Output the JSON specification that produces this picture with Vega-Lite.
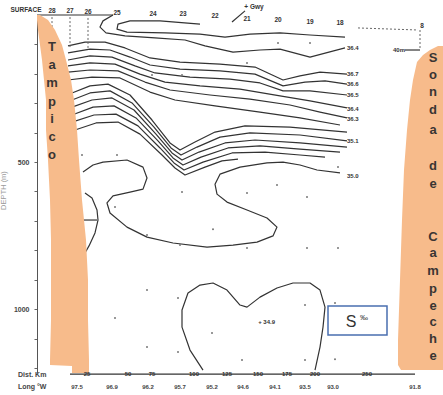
{
  "$schema": "https://vega.github.io/schema/vega-lite/v6.json",
  "width": 406,
  "height": 358,
  "padding": {"left": 37, "top": 15, "right": 0, "bottom": 22},
  "autosize": {"type": "none"},
  "background": "white",
  "config": {"view": {"stroke": null}, "font": "Liberation Sans"},
  "datasets": {
    "contours": [
      {"c":"c1","i":1,"d":76,"z":0},{"c":"c1","i":2,"d":66,"z":20},{"c":"c1","i":3,"d":63,"z":41},{"c":"c1","i":4,"d":69,"z":61},{"c":"c1","i":5,"d":88,"z":71},{"c":"c1","i":6,"d":118,"z":78},{"c":"c1","i":7,"d":148,"z":85},{"c":"c1","i":8,"d":168,"z":105},{"c":"c1","i":9,"d":196,"z":126},{"c":"c1","i":10,"d":223,"z":119},{"c":"c1","i":11,"d":243,"z":116},{"c":"c1","i":12,"d":273,"z":143},{"c":"c1","i":13,"d":308,"z":112},
      {"c":"c2","i":1,"d":163,"z":31},{"c":"c2","i":2,"d":123,"z":20},{"c":"c2","i":3,"d":93,"z":20},{"c":"c2","i":4,"d":81,"z":31},{"c":"c2","i":5,"d":80,"z":48},{"c":"c2","i":6,"d":90,"z":58},{"c":"c2","i":7,"d":128,"z":61},{"c":"c2","i":8,"d":163,"z":65},{"c":"c2","i":9,"d":188,"z":75},{"c":"c2","i":10,"d":213,"z":65},{"c":"c2","i":11,"d":243,"z":61},{"c":"c2","i":12,"d":273,"z":68},{"c":"c2","i":13,"d":308,"z":75},
      {"c":"u1","i":1,"d":31,"z":105},{"c":"u1","i":2,"d":48,"z":92},{"c":"u1","i":3,"d":68,"z":92},{"c":"u1","i":4,"d":88,"z":112},{"c":"u1","i":5,"d":113,"z":146},{"c":"u1","i":6,"d":143,"z":160},{"c":"u1","i":7,"d":183,"z":167},{"c":"u1","i":8,"d":218,"z":177},{"c":"u1","i":9,"d":246,"z":221},{"c":"u1","i":10,"d":263,"z":207},{"c":"u1","i":11,"d":283,"z":194},{"c":"u1","i":12,"d":310,"z":201},
      {"c":"u2","i":1,"d":31,"z":129},{"c":"u2","i":2,"d":53,"z":116},{"c":"u2","i":3,"d":73,"z":119},{"c":"u2","i":4,"d":93,"z":143},{"c":"u2","i":5,"d":113,"z":170},{"c":"u2","i":6,"d":143,"z":184},{"c":"u2","i":7,"d":183,"z":190},{"c":"u2","i":8,"d":218,"z":201},{"c":"u2","i":9,"d":246,"z":241},{"c":"u2","i":10,"d":268,"z":228},{"c":"u2","i":11,"d":288,"z":224},{"c":"u2","i":12,"d":310,"z":235},
      {"c":"u3","i":1,"d":31,"z":153},{"c":"u3","i":2,"d":53,"z":139},{"c":"u3","i":3,"d":75,"z":143},{"c":"u3","i":4,"d":98,"z":173},{"c":"u3","i":5,"d":118,"z":197},{"c":"u3","i":6,"d":153,"z":211},{"c":"u3","i":7,"d":193,"z":218},{"c":"u3","i":8,"d":223,"z":231},{"c":"u3","i":9,"d":246,"z":258},{"c":"u3","i":10,"d":273,"z":258},{"c":"u3","i":11,"d":310,"z":272},
      {"c":"u4","i":1,"d":31,"z":173},{"c":"u4","i":2,"d":53,"z":163},{"c":"u4","i":3,"d":78,"z":167},{"c":"u4","i":4,"d":103,"z":201},{"c":"u4","i":5,"d":128,"z":228},{"c":"u4","i":6,"d":163,"z":241},{"c":"u4","i":7,"d":203,"z":252},{"c":"u4","i":8,"d":243,"z":275},{"c":"u4","i":9,"d":273,"z":292},{"c":"u4","i":10,"d":310,"z":316},
      {"c":"u5","i":1,"d":31,"z":194},{"c":"u5","i":2,"d":53,"z":187},{"c":"u5","i":3,"d":81,"z":190},{"c":"u5","i":4,"d":108,"z":228},{"c":"u5","i":5,"d":133,"z":255},{"c":"u5","i":6,"d":173,"z":272},{"c":"u5","i":7,"d":213,"z":286},{"c":"u5","i":8,"d":253,"z":306},{"c":"u5","i":9,"d":283,"z":330},{"c":"u5","i":10,"d":310,"z":350},
      {"c":"u6","i":1,"d":31,"z":221},{"c":"u6","i":2,"d":55,"z":211},{"c":"u6","i":3,"d":83,"z":214},{"c":"u6","i":4,"d":113,"z":262},{"c":"u6","i":5,"d":138,"z":289},{"c":"u6","i":6,"d":178,"z":309},{"c":"u6","i":7,"d":223,"z":330},{"c":"u6","i":8,"d":263,"z":350},{"c":"u6","i":9,"d":303,"z":374},
      {"c":"l1","i":1,"d":35,"z":265},{"c":"l1","i":2,"d":53,"z":241},{"c":"l1","i":3,"d":71,"z":235},{"c":"l1","i":4,"d":93,"z":272},{"c":"l1","i":5,"d":115,"z":357},{"c":"l1","i":6,"d":133,"z":435},{"c":"l1","i":7,"d":143,"z":459},{"c":"l1","i":8,"d":158,"z":432},{"c":"l1","i":9,"d":178,"z":398},{"c":"l1","i":10,"d":208,"z":377},{"c":"l1","i":11,"d":253,"z":381},{"c":"l1","i":12,"d":310,"z":398},
      {"c":"l2","i":1,"d":35,"z":289},{"c":"l2","i":2,"d":53,"z":265},{"c":"l2","i":3,"d":73,"z":258},{"c":"l2","i":4,"d":95,"z":299},{"c":"l2","i":5,"d":117,"z":381},{"c":"l2","i":6,"d":134,"z":452},{"c":"l2","i":7,"d":144,"z":476},{"c":"l2","i":8,"d":160,"z":449},{"c":"l2","i":9,"d":183,"z":415},{"c":"l2","i":10,"d":213,"z":401},{"c":"l2","i":11,"d":263,"z":408},{"c":"l2","i":12,"d":310,"z":428},
      {"c":"l3","i":1,"d":35,"z":313},{"c":"l3","i":2,"d":55,"z":289},{"c":"l3","i":3,"d":75,"z":282},{"c":"l3","i":4,"d":97,"z":323},{"c":"l3","i":5,"d":119,"z":405},{"c":"l3","i":6,"d":135,"z":469},{"c":"l3","i":7,"d":145,"z":493},{"c":"l3","i":8,"d":162,"z":466},{"c":"l3","i":9,"d":188,"z":435},{"c":"l3","i":10,"d":218,"z":425},{"c":"l3","i":11,"d":263,"z":435},{"c":"l3","i":12,"d":310,"z":449},
      {"c":"l4","i":1,"d":35,"z":340},{"c":"l4","i":2,"d":56,"z":313},{"c":"l4","i":3,"d":77,"z":309},{"c":"l4","i":4,"d":99,"z":350},{"c":"l4","i":5,"d":121,"z":428},{"c":"l4","i":6,"d":136,"z":486},{"c":"l4","i":7,"d":146,"z":510},{"c":"l4","i":8,"d":164,"z":483},{"c":"l4","i":9,"d":191,"z":452},{"c":"l4","i":10,"d":223,"z":445},{"c":"l4","i":11,"d":263,"z":456},{"c":"l4","i":12,"d":303,"z":466},
      {"c":"l5","i":1,"d":35,"z":364},{"c":"l5","i":2,"d":57,"z":340},{"c":"l5","i":3,"d":79,"z":337},{"c":"l5","i":4,"d":101,"z":377},{"c":"l5","i":5,"d":123,"z":452},{"c":"l5","i":6,"d":137,"z":503},{"c":"l5","i":7,"d":147,"z":527},{"c":"l5","i":8,"d":166,"z":500},{"c":"l5","i":9,"d":195,"z":469},{"c":"l5","i":10,"d":228,"z":466},{"c":"l5","i":11,"d":263,"z":476},{"c":"l5","i":12,"d":288,"z":483},
      {"c":"l6","i":1,"d":38,"z":391},{"c":"l6","i":2,"d":59,"z":367},{"c":"l6","i":3,"d":81,"z":364},{"c":"l6","i":4,"d":103,"z":405},{"c":"l6","i":5,"d":125,"z":476},{"c":"l6","i":6,"d":138,"z":520},{"c":"l6","i":7,"d":148,"z":544},{"c":"l6","i":8,"d":168,"z":517},{"c":"l6","i":9,"d":185,"z":496},{"c":"l6","i":10,"d":201,"z":490},
      {"c":"s1","i":1,"d":46,"z":534},{"c":"s1","i":2,"d":56,"z":510},{"c":"s1","i":3,"d":66,"z":500},{"c":"s1","i":4,"d":90,"z":493},{"c":"s1","i":5,"d":106,"z":517},{"c":"s1","i":6,"d":110,"z":554},{"c":"s1","i":7,"d":106,"z":592},{"c":"s1","i":8,"d":93,"z":602},{"c":"s1","i":9,"d":76,"z":615},{"c":"s1","i":10,"d":70,"z":639},{"c":"s1","i":11,"d":73,"z":673},{"c":"s1","i":12,"d":90,"z":721},{"c":"s1","i":13,"d":110,"z":755},{"c":"s1","i":14,"d":136,"z":775},{"c":"s1","i":15,"d":170,"z":789},{"c":"s1","i":16,"d":196,"z":782},{"c":"s1","i":17,"d":220,"z":772},{"c":"s1","i":18,"d":236,"z":751},{"c":"s1","i":19,"d":240,"z":721},{"c":"s1","i":20,"d":230,"z":690},{"c":"s1","i":21,"d":210,"z":663},{"c":"s1","i":22,"d":190,"z":636},{"c":"s1","i":23,"d":180,"z":609},{"c":"s1","i":24,"d":178,"z":575},{"c":"s1","i":25,"d":183,"z":541},{"c":"s1","i":26,"d":203,"z":517},{"c":"s1","i":27,"d":230,"z":503},{"c":"s1","i":28,"d":246,"z":500},{"c":"s1","i":29,"d":263,"z":510},{"c":"s1","i":30,"d":280,"z":527},{"c":"s1","i":31,"d":303,"z":537},
      {"c":"semi","i":1,"d":48,"z":605},{"c":"semi","i":2,"d":55,"z":622},{"c":"semi","i":3,"d":60,"z":663},{"c":"semi","i":4,"d":61,"z":697},{"c":"semi","i":5,"d":58,"z":741},{"c":"semi","i":6,"d":52,"z":785},{"c":"semi","i":7,"d":48,"z":809},
      {"c":"bar","i":1,"d":46,"z":697},{"c":"bar","i":2,"d":60,"z":697},
      {"c":"heart","i":1,"d":166,"z":1207},{"c":"heart","i":2,"d":153,"z":1139},{"c":"heart","i":3,"d":145,"z":1061},{"c":"heart","i":4,"d":145,"z":1003},{"c":"heart","i":5,"d":151,"z":945},{"c":"heart","i":6,"d":163,"z":918},{"c":"heart","i":7,"d":176,"z":911},{"c":"heart","i":8,"d":190,"z":935},{"c":"heart","i":9,"d":203,"z":986},{"c":"heart","i":10,"d":210,"z":993},{"c":"heart","i":11,"d":223,"z":959},{"c":"heart","i":12,"d":240,"z":928},{"c":"heart","i":13,"d":256,"z":911},{"c":"heart","i":14,"d":273,"z":911},{"c":"heart","i":15,"d":283,"z":935},{"c":"heart","i":16,"d":288,"z":993},{"c":"heart","i":17,"d":286,"z":1061},{"c":"heart","i":18,"d":283,"z":1129},{"c":"heart","i":19,"d":278,"z":1207},
      {"c":"surf","i":1,"d":0,"z":0},{"c":"surf","i":2,"d":76,"z":0},
      {"c":"arrow","i":1,"d":195,"z":24},{"c":"arrow","i":2,"d":208,"z":-14},
      {"c":"seg","i":1,"d":368,"z":119},{"c":"seg","i":2,"d":383,"z":119},
      {"c":"base","i":1,"d":33,"z":1221},{"c":"base","i":2,"d":378,"z":1221}
    ],
    "dashed": [
      {"c":"r1","i":1,"d":321,"z":44},{"c":"r1","i":2,"d":381,"z":51},
      {"c":"v1","i":1,"d":15,"z":7},{"c":"v1","i":2,"d":15,"z":112},
      {"c":"v2","i":1,"d":33,"z":7},{"c":"v2","i":2,"d":33,"z":112},
      {"c":"v3","i":1,"d":51,"z":10},{"c":"v3","i":2,"d":51,"z":112},
      {"c":"v4","i":1,"d":383,"z":51},{"c":"v4","i":2,"d":383,"z":119}
    ],
    "dots": [
      {"d":45,"z":476},{"d":80,"z":476},{"d":145,"z":602},{"d":210,"z":605},{"d":240,"z":578},{"d":270,"z":619},{"d":110,"z":748},{"d":143,"z":782},{"d":176,"z":728},{"d":210,"z":792},{"d":270,"z":792},{"d":301,"z":792},{"d":78,"z":653},{"d":301,"z":517},{"d":110,"z":935},{"d":78,"z":1030},{"d":110,"z":1129},{"d":141,"z":962},{"d":141,"z":1146},{"d":175,"z":1081},{"d":205,"z":1173},{"d":268,"z":986},{"d":268,"z":1173},{"d":298,"z":979},{"d":298,"z":1170},{"d":115,"z":204},{"d":145,"z":204},{"d":210,"z":163},{"d":241,"z":95},{"d":273,"z":95}
    ],
    "coast": [
      {"band":"L","z":0,"xa":0,"xb":3},{"band":"L","z":17,"xa":0,"xb":11},{"band":"L","z":51,"xa":1,"xb":18},{"band":"L","z":102,"xa":3,"xb":25},{"band":"L","z":153,"xa":5,"xb":29},{"band":"L","z":221,"xa":7,"xb":34},{"band":"L","z":289,"xa":9,"xb":37},{"band":"L","z":391,"xa":9,"xb":40},{"band":"L","z":493,"xa":11,"xb":42},{"band":"L","z":629,"xa":13,"xb":45},{"band":"L","z":765,"xa":14,"xb":49},{"band":"L","z":901,"xa":14,"xb":51},{"band":"L","z":1037,"xa":14,"xb":51},{"band":"L","z":1173,"xa":13,"xb":52},{"band":"L","z":1190,"xa":13,"xb":52},{"band":"L","z":1193,"xa":35,"xb":52},{"band":"L","z":1217,"xa":35,"xb":52},
      {"band":"R","z":105,"xa":401,"xb":406},{"band":"R","z":119,"xa":393,"xb":406},{"band":"R","z":136,"xa":386,"xb":406},{"band":"R","z":160,"xa":380,"xb":406},{"band":"R","z":221,"xa":376,"xb":406},{"band":"R","z":289,"xa":373,"xb":406},{"band":"R","z":391,"xa":370,"xb":406},{"band":"R","z":527,"xa":367,"xb":406},{"band":"R","z":697,"xa":365,"xb":406},{"band":"R","z":901,"xa":363,"xb":406},{"band":"R","z":1105,"xa":361,"xb":406},{"band":"R","z":1190,"xa":361,"xb":406},{"band":"R","z":1207,"xa":364,"xb":406}
    ],
    "letters": [
      {"t":"T","d":15,"z":109},{"t":"a","d":15,"z":170},{"t":"m","d":15,"z":231},{"t":"p","d":15,"z":296},{"t":"i","d":15,"z":354},{"t":"c","d":15,"z":415},{"t":"o","d":15,"z":476},
      {"t":"S","d":396,"z":146},{"t":"o","d":396,"z":204},{"t":"n","d":396,"z":262},{"t":"d","d":396,"z":323},{"t":"a","d":396,"z":391},
      {"t":"d","d":396,"z":513},{"t":"e","d":396,"z":575},
      {"t":"C","d":396,"z":755},{"t":"a","d":396,"z":809},{"t":"m","d":396,"z":870},{"t":"p","d":396,"z":930},{"t":"e","d":396,"z":990},{"t":"c","d":396,"z":1045},{"t":"h","d":396,"z":1100},{"t":"e","d":396,"z":1160}
    ],
    "stations": [
      {"t":"SURFACE","d":-11,"z":-17},{"t":"28","d":15,"z":-14},{"t":"27","d":33,"z":-14},{"t":"26","d":51,"z":-10},{"t":"25","d":80,"z":-7},{"t":"24","d":116,"z":-3},{"t":"23","d":146,"z":-3},{"t":"22","d":178,"z":4},{"t":"21","d":210,"z":14},{"t":"20","d":241,"z":17},{"t":"19","d":273,"z":24},{"t":"18","d":303,"z":27},{"t":"8","d":385,"z":38},{"t":"+ Gwy","d":217,"z":-27}
    ],
    "clabels": [
      {"t":"36.4","d":310,"z":112},{"t":"36.7","d":310,"z":201},{"t":"36.6","d":310,"z":235},{"t":"36.5","d":310,"z":272},{"t":"36.4","d":310,"z":320},{"t":"36.3","d":310,"z":354},{"t":"35.1","d":310,"z":428},{"t":"35.0","d":310,"z":547}
    ],
    "misc": [
      {"t":"40m","d":368,"z":119},{"t":"+ 34.9","d":238,"z":1044}
    ],
    "dist": [
      {"t":"25","d":50,"z":1221},{"t":"50","d":91,"z":1221},{"t":"75","d":115,"z":1221},{"t":"100","d":157,"z":1221},{"t":"125","d":190,"z":1221},{"t":"150","d":221,"z":1221},{"t":"175","d":250,"z":1221},{"t":"200","d":278,"z":1221},{"t":"250","d":330,"z":1221}
    ],
    "long": [
      {"t":"97.5","d":40,"z":1265},{"t":"96.9","d":75,"z":1265},{"t":"96.2","d":111,"z":1265},{"t":"95.7","d":143,"z":1265},{"t":"95.2","d":175,"z":1265},{"t":"94.6","d":206,"z":1265},{"t":"94.1","d":238,"z":1265},{"t":"93.5","d":268,"z":1265},{"t":"93.0","d":296,"z":1265},{"t":"91.8","d":378,"z":1265}
    ],
    "axlab": [
      {"t":"Dist. Km","d":-19,"z":1224},{"t":"Long °W","d":-19,"z":1265}
    ],
    "legend": [
      {"d":291,"d2":350,"z":989,"z2":1088}
    ]
  },
  "encoding": {
    "x": {"field": "d", "type": "quantitative", "scale": {"domain": [0, 406]}, "axis": null},
    "y": {"field": "z", "type": "quantitative", "scale": {"domain": [0, 1217], "reverse": true},
      "axis": {"title": "DEPTH (m)", "titleX": -30, "titleY": 175, "titleFontSize": 7.5, "titleFontWeight": "normal", "titleColor": "#9a9a9a",
        "values": [100,200,300,400,500,600,700,800,900,1000,1100,1200],
        "labelExpr": "datum.value == 500 || datum.value == 1000 ? datum.label : ''",
        "format": "d", "grid": false, "domainColor": "#555", "tickColor": "#666", "tickSize": 3,
        "labelFontSize": 7, "labelFontWeight": "bold", "labelColor": "#444", "labelPadding": 5}}
  },
  "layer": [
    {
      "data": {"name": "contours"},
      "mark": {"type": "line", "color": "#333", "strokeWidth": 1.2, "strokeJoin": "round", "interpolate": "linear"},
      "encoding": {"detail": {"field": "c"}, "order": {"field": "i", "type": "quantitative"}}
    },
    {
      "data": {"name": "dashed"},
      "mark": {"type": "line", "color": "#666", "strokeWidth": 1, "strokeDash": [2, 2]},
      "encoding": {"detail": {"field": "c"}, "order": {"field": "i", "type": "quantitative"}}
    },
    {
      "data": {"name": "dots"},
      "mark": {"type": "circle", "color": "#777", "size": 4, "opacity": 1}
    },
    {
      "data": {"name": "coast"},
      "mark": {"type": "area", "orient": "horizontal", "color": "#F7BB8B", "opacity": 1},
      "encoding": {
        "y": {"field": "z", "type": "quantitative"},
        "x": {"field": "xa", "type": "quantitative", "scale": {"domain": [0, 406]}, "axis": null},
        "x2": {"field": "xb"},
        "detail": {"field": "band"}
      }
    },
    {
      "data": {"name": "letters"},
      "mark": {"type": "text", "fontSize": 13, "fontWeight": "bold", "color": "#3a3533", "align": "center", "baseline": "middle"},
      "encoding": {"text": {"field": "t"}}
    },
    {
      "data": {"name": "stations"},
      "mark": {"type": "text", "fontSize": 6.5, "fontWeight": "bold", "color": "#333", "align": "center", "baseline": "middle"},
      "encoding": {"text": {"field": "t"}}
    },
    {
      "data": {"name": "clabels"},
      "mark": {"type": "text", "fontSize": 6, "fontWeight": "bold", "color": "#333", "align": "left", "baseline": "middle"},
      "encoding": {"text": {"field": "t"}}
    },
    {
      "data": {"name": "misc"},
      "mark": {"type": "text", "fontSize": 6, "fontWeight": "bold", "color": "#333", "align": "right", "baseline": "middle"},
      "encoding": {"text": {"field": "t"}}
    },
    {
      "data": {"name": "dist"},
      "mark": {"type": "text", "fontSize": 6, "fontWeight": "bold", "color": "#333", "align": "center", "baseline": "middle"},
      "encoding": {"text": {"field": "t"}}
    },
    {
      "data": {"name": "long"},
      "mark": {"type": "text", "fontSize": 6, "fontWeight": "bold", "color": "#444", "align": "center", "baseline": "middle"},
      "encoding": {"text": {"field": "t"}}
    },
    {
      "data": {"name": "axlab"},
      "mark": {"type": "text", "fontSize": 7, "fontWeight": "bold", "color": "#444", "align": "left", "baseline": "middle"},
      "encoding": {"text": {"field": "t"}}
    },
    {
      "data": {"name": "legend"},
      "mark": {"type": "rect", "fill": "white", "stroke": "#4a6fb0", "strokeWidth": 1.5},
      "encoding": {"x2": {"field": "d2"}, "y2": {"field": "z2"}}
    },
    {
      "data": {"values": [{"t": "S", "d": 314, "z": 1044}]},
      "mark": {"type": "text", "fontSize": 16, "color": "#333", "align": "center", "baseline": "middle"},
      "encoding": {"text": {"field": "t"}}
    },
    {
      "data": {"values": [{"t": "‰", "d": 327, "z": 1030}]},
      "mark": {"type": "text", "fontSize": 8, "color": "#333", "align": "center", "baseline": "middle"},
      "encoding": {"text": {"field": "t"}}
    }
  ]
}
